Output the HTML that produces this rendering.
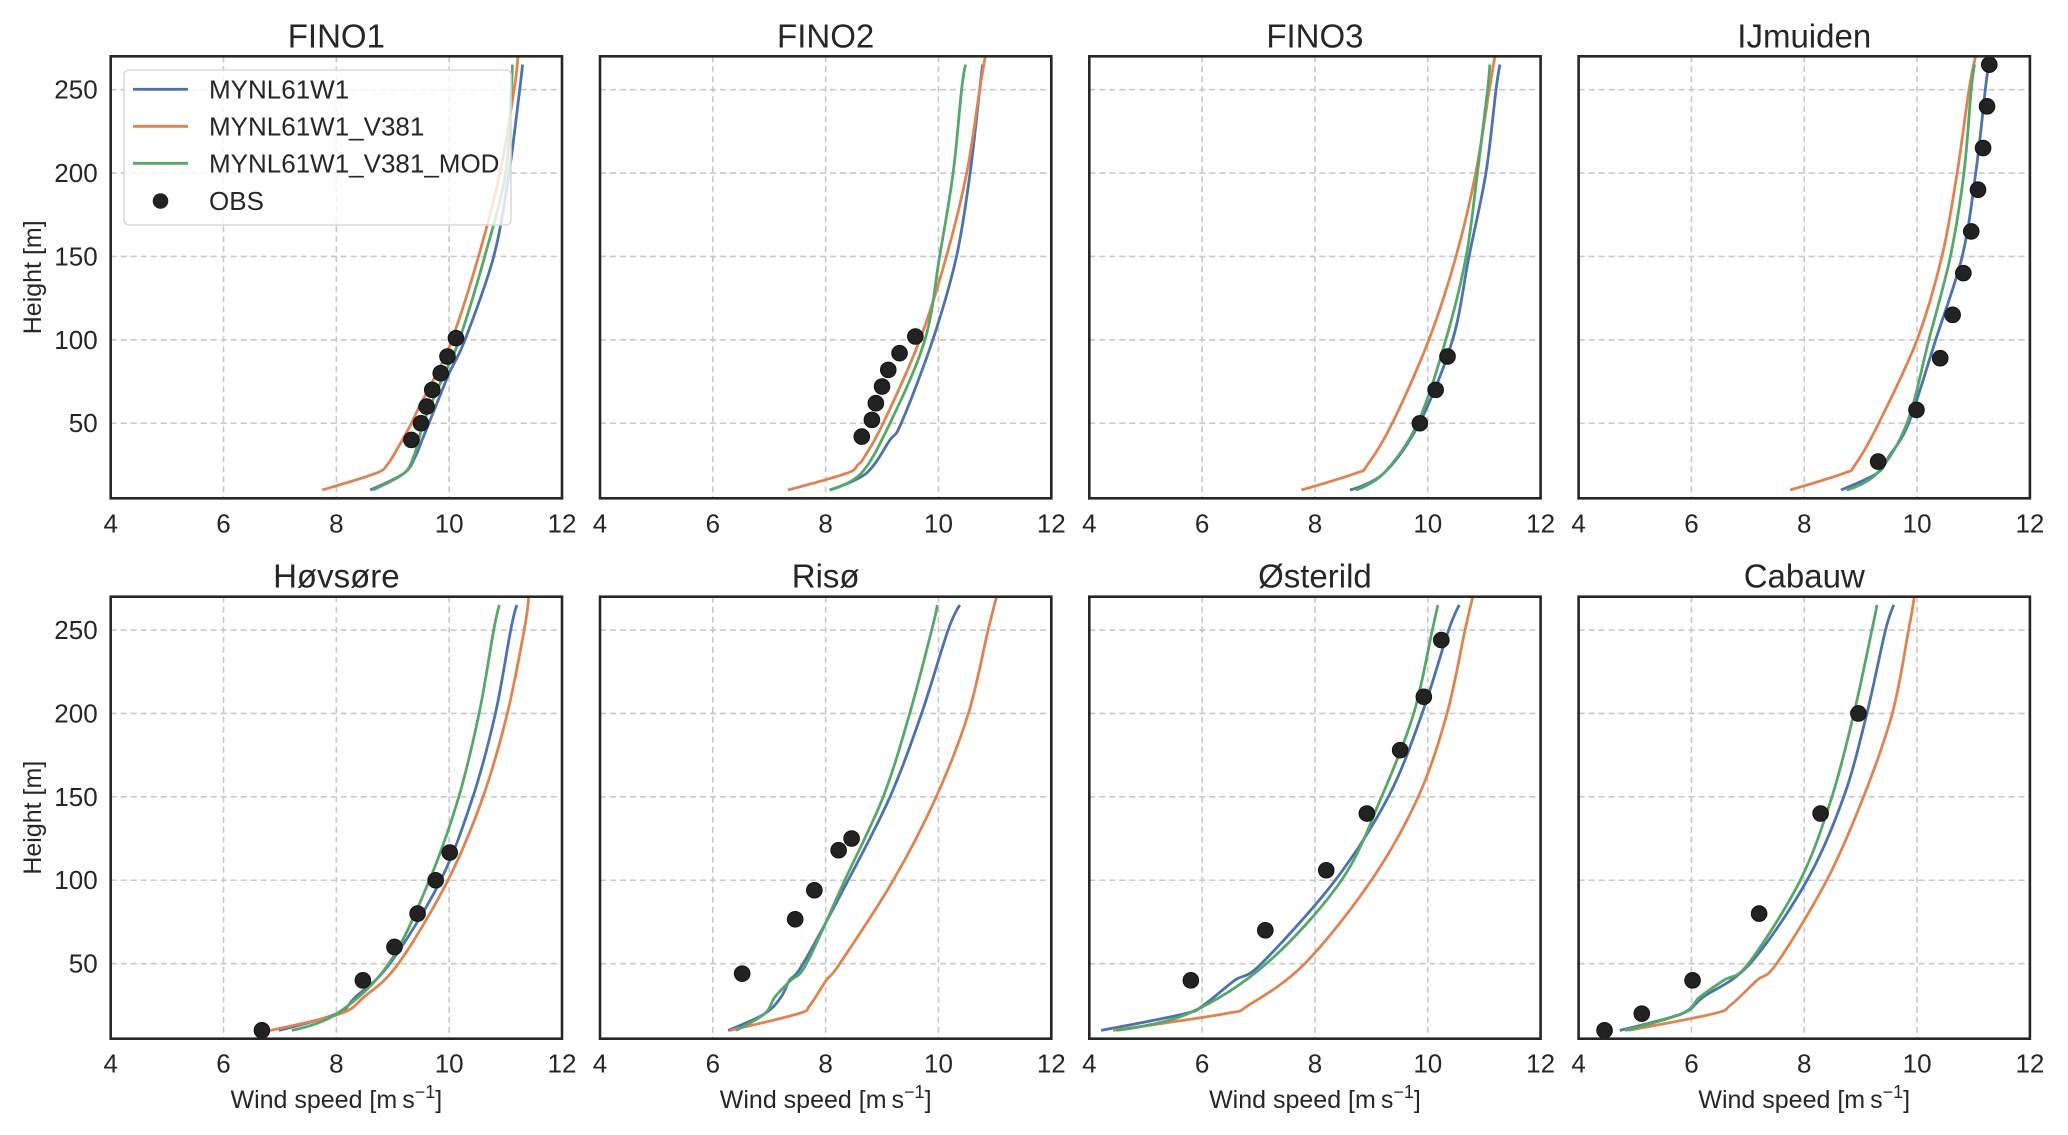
<!DOCTYPE html>
<html><head><meta charset="utf-8">
<style>
html,body{margin:0;padding:0;background:#fff;}
svg{display:block;font-family:"Liberation Sans",Arial,sans-serif;}
</style></head>
<body>
<svg id="chart" width="2068" height="1135" viewBox="0 0 2068 1135" xmlns="http://www.w3.org/2000/svg"></svg>
<script>
// ---- data ----
const stations = ["FINO1","FINO2","FINO3","IJmuiden","Høvsøre","Risø","Østerild","Cabauw"];
const seriesNames = ["MYNL61W1","MYNL61W1_V381","MYNL61W1_V381_MOD"];
const xTicks = [4,6,8,10,12];
const yTicks = [50,100,150,200,250];
// [height, wind] pairs
const blue = [
 [[10,8.6],[20,9.2],[30,9.4],[40,9.52],[50,9.64],[60,9.76],[80,10.0],[100,10.28],[150,10.79],[200,11.06],[250,11.25],[265,11.3]],
 [[10,8.07],[20,8.72],[40,9.14],[50,9.34],[100,9.9],[150,10.32],[200,10.56],[250,10.73],[265,10.78]],
 [[10,8.62],[20,9.22],[50,9.85],[100,10.44],[150,10.73],[200,11.03],[250,11.21],[265,11.28]],
 [[10,8.65],[20,9.29],[30,9.5],[50,9.85],[100,10.33],[150,10.8],[200,11.04],[250,11.21],[265,11.27]],
 [[10,6.98],[20,8.01],[30,8.34],[50,8.95],[100,9.85],[150,10.42],[200,10.82],[250,11.09],[265,11.2]],
 [[10,6.27],[20,6.92],[30,7.21],[40,7.36],[50,7.6],[100,8.4],[150,9.14],[200,9.7],[250,10.17],[265,10.38]],
 [[10,4.21],[20,5.69],[25,6.02],[40,6.58],[50,7.05],[100,8.36],[150,9.3],[200,9.9],[250,10.37],[265,10.56]],
 [[10,4.73],[20,5.83],[30,6.21],[50,7.04],[100,8.05],[150,8.7],[200,9.11],[250,9.44],[265,9.59]]
];
const orange = [
 [[10,7.75],[20,8.7],[25,8.9],[30,9.0],[40,9.17],[50,9.33],[60,9.47],[80,9.78],[100,10.05],[150,10.52],[200,10.9],[250,11.15],[270,11.22]],
 [[10,7.33],[20,8.37],[25,8.57],[30,8.69],[50,9.02],[100,9.67],[150,10.14],[200,10.5],[250,10.73],[270,10.83]],
 [[10,7.76],[20,8.72],[25,8.93],[50,9.37],[100,10.02],[150,10.5],[200,10.85],[250,11.09],[270,11.19]],
 [[10,7.75],[20,8.7],[25,8.9],[50,9.32],[100,10.0],[150,10.44],[200,10.71],[250,10.92],[270,11.04]],
 [[10,6.83],[20,8.07],[30,8.49],[50,9.1],[100,9.98],[150,10.6],[200,11.03],[250,11.33],[270,11.41]],
 [[10,6.3],[20,7.51],[25,7.72],[40,8.01],[50,8.25],[100,9.2],[150,9.96],[200,10.53],[250,10.88],[270,11.03]],
 [[10,4.42],[20,6.4],[25,6.82],[50,7.82],[100,9.0],[150,9.83],[200,10.34],[250,10.66],[270,10.8]],
 [[10,4.88],[20,6.39],[25,6.69],[40,7.16],[50,7.51],[100,8.4],[150,9.05],[200,9.56],[250,9.85],[270,9.95]]
];
const green = [
 [[10,8.65],[20,9.2],[30,9.37],[40,9.46],[50,9.54],[60,9.66],[80,9.92],[100,10.18],[150,10.63],[200,11.0],[250,11.1],[265,11.12]],
 [[10,8.07],[20,8.63],[50,9.14],[100,9.76],[150,10.02],[200,10.26],[250,10.41],[265,10.48]],
 [[10,8.72],[20,9.22],[50,9.82],[100,10.32],[150,10.68],[200,10.88],[250,11.06],[265,11.1]],
 [[10,8.75],[20,9.29],[50,9.82],[100,10.21],[150,10.59],[200,10.83],[250,10.96],[265,11.02]],
 [[10,7.21],[20,8.01],[50,8.93],[100,9.65],[150,10.17],[200,10.53],[250,10.79],[265,10.89]],
 [[10,6.41],[20,6.92],[30,7.1],[40,7.38],[50,7.66],[100,8.34],[150,9.02],[200,9.49],[250,9.88],[265,9.98]],
 [[10,4.48],[20,5.75],[50,7.14],[100,8.47],[150,9.18],[200,9.75],[250,10.08],[265,10.18]],
 [[10,4.82],[20,5.83],[30,6.15],[40,6.57],[50,7.01],[100,7.93],[150,8.49],[200,8.88],[250,9.2],[265,9.29]]
];
const obs = [
 [[40,9.33],[50,9.5],[60,9.6],[70,9.7],[80,9.85],[90,9.97],[101,10.12]],
 [[42,8.64],[52,8.82],[62,8.89],[72,9.0],[82,9.11],[92,9.31],[102,9.59]],
 [[50,9.86],[70,10.14],[90,10.35]],
 [[27,9.31],[58,9.99],[89,10.41],[115,10.63],[140,10.82],[165,10.96],[190,11.08],[215,11.17],[240,11.24],[265,11.28]],
 [[10,6.68],[40,8.47],[60,9.03],[80,9.44],[100,9.76],[116.6,10.01]],
 [[44,6.52],[76.6,7.46],[94,7.8],[118,8.23],[125,8.46]],
 [[40,5.8],[70,7.12],[106,8.2],[140,8.92],[178,9.51],[210,9.93],[244,10.24]],
 [[10,4.46],[20,5.12],[40,6.02],[80,7.2],[140,8.29],[200,8.96]]
];

// ---- layout ----
const NS = "http://www.w3.org/2000/svg";
const svg = document.getElementById("chart");
const colLeft = [110.7, 600, 1089.3, 1578.6];
const rowTop = [56.3, 596.7];
const W = 451.3, H = 442;
const X0 = 4, X1 = 12, Y0 = 5, Y1 = 270;
const colors = ["#4c72b0","#dd8452","#55a868"];
const ink = "#262626";

function mk(tag, attrs, parent){
  const e = document.createElementNS(NS, tag);
  for (const k in attrs) e.setAttribute(k, attrs[k]);
  (parent||svg).appendChild(e);
  return e;
}
function txt(s, attrs, parent){ const e = mk("text", attrs, parent); e.textContent = s; return e; }

function pathFrom(pts){
  let d = "M" + pts[0][0].toFixed(1) + "," + pts[0][1].toFixed(1);
  for (let i = 0; i < pts.length - 1; i++){
    const p0 = pts[Math.max(0,i-1)], p1 = pts[i], p2 = pts[i+1], p3 = pts[Math.min(pts.length-1,i+2)];
    const t = (i === 0) ? 0 : 1/6, t2 = (i+1 === pts.length-1) ? 0 : 1/6;
    const c1 = [p1[0] + (p2[0]-p0[0])*t, p1[1] + (p2[1]-p0[1])*t];
    const c2 = [p2[0] - (p3[0]-p1[0])*t2, p2[1] - (p3[1]-p1[1])*t2];
    d += " C" + c1[0].toFixed(1)+","+c1[1].toFixed(1)+" "+c2[0].toFixed(1)+","+c2[1].toFixed(1)+" "+p2[0].toFixed(1)+","+p2[1].toFixed(1);
  }
  return d;
}

const allSeries = [blue, orange, green];

stations.forEach((name, i) => {
  const left = colLeft[i % 4], top = rowTop[Math.floor(i / 4)];
  const xs = v => left + (v - X0) / (X1 - X0) * W;
  const ys = v => top + H - (v - Y0) / (Y1 - Y0) * H;
  const g = mk("g", {});
  
  
  const clipId = "clip" + i;
  const cp = mk("clipPath", {id: clipId}, g);
  mk("rect", {x: left, y: top, width: W, height: H}, cp);

  xTicks.forEach(t => {
    if (t > X0 && t < X1) {
      const l = mk("line", {x1: xs(t), x2: xs(t), y1: top, y2: top + H, stroke: "#c8c8c8", "stroke-width": 1.6, "stroke-dasharray": "6,4"}, g);
      
      
    }
  });
  yTicks.forEach(t => {
    const l = mk("line", {x1: left, x2: left + W, y1: ys(t), y2: ys(t), stroke: "#c8c8c8", "stroke-width": 1.6, "stroke-dasharray": "6,4"}, g);
    
    
  });

  allSeries.forEach((ser, s) => {
    const pts = ser[i].map(p => [xs(p[1]), ys(p[0])]);
    const p = mk("path", {d: pathFrom(pts), fill: "none", stroke: colors[s], "stroke-width": 2.8, "clip-path": "url(#" + clipId + ")", "stroke-linejoin": "round"}, g);
    
    
  });

  obs[i].forEach(o => {
    const c = mk("circle", {cx: xs(o[1]), cy: ys(o[0]), r: 7.8, fill: "#222", stroke: "#111", "stroke-width": 1}, g);
    
    
  });

  const fr = mk("rect", {x: left, y: top, width: W, height: H, fill: "none", stroke: ink, "stroke-width": 2.6}, g);
  
  

  const ti = txt(name, {x: left + W / 2, y: top - 9, "text-anchor": "middle", "font-size": 33, fill: ink}, g);
  
  

  xTicks.forEach(t => {
    const tl = txt(String(t), {x: xs(t), y: top + H + 34, "text-anchor": "middle", "font-size": 26, fill: ink}, g);
    
    
  });
  if (i % 4 === 0) {
    yTicks.forEach(t => {
      const tl = txt(String(t), {x: left - 13, y: ys(t) + 9, "text-anchor": "end", "font-size": 26, fill: ink}, g);
      
      
    });
    const yl = txt("Height [m]", {x: 0, y: 0, "text-anchor": "middle", "font-size": 25, fill: ink, transform: "translate(41," + (top + H / 2) + ") rotate(-90)"}, g);
    
    
  }
  if (i >= 4) {
    const xl = txt("", {x: left + W / 2, y: 1108, "text-anchor": "middle", "font-size": 25, fill: ink}, g);
    
    
    xl.appendChild(document.createTextNode("Wind speed [m\u2009s"));
    const sup = mk("tspan", {"font-size": 18, dy: -10}, xl);
    sup.textContent = "\u22121";
    const rest = mk("tspan", {dy: 10}, xl);
    rest.textContent = "]";
  }
});

// legend
const lg = mk("g", {});


mk("rect", {x: 124, y: 70, width: 387, height: 155, rx: 5, fill: "rgba(255,255,255,0.8)", stroke: "#d8d8d8", "stroke-width": 1.5}, lg);
const legY = [89.3, 126.3, 163.3, 201];
seriesNames.forEach((n, s) => {
  const ln = mk("line", {x1: 133, x2: 188, y1: legY[s], y2: legY[s], stroke: colors[s], "stroke-width": 2.8}, lg);
  
  
  const t = txt(n, {x: 209, y: legY[s] + 9, "font-size": 26, fill: ink}, lg);
  
  
});
const lc = mk("circle", {cx: 160.5, cy: legY[3], r: 7.8, fill: "#222"}, lg);


const lt = txt("OBS", {x: 209, y: legY[3] + 9, "font-size": 26, fill: ink}, lg);


</script>
</body></html>
